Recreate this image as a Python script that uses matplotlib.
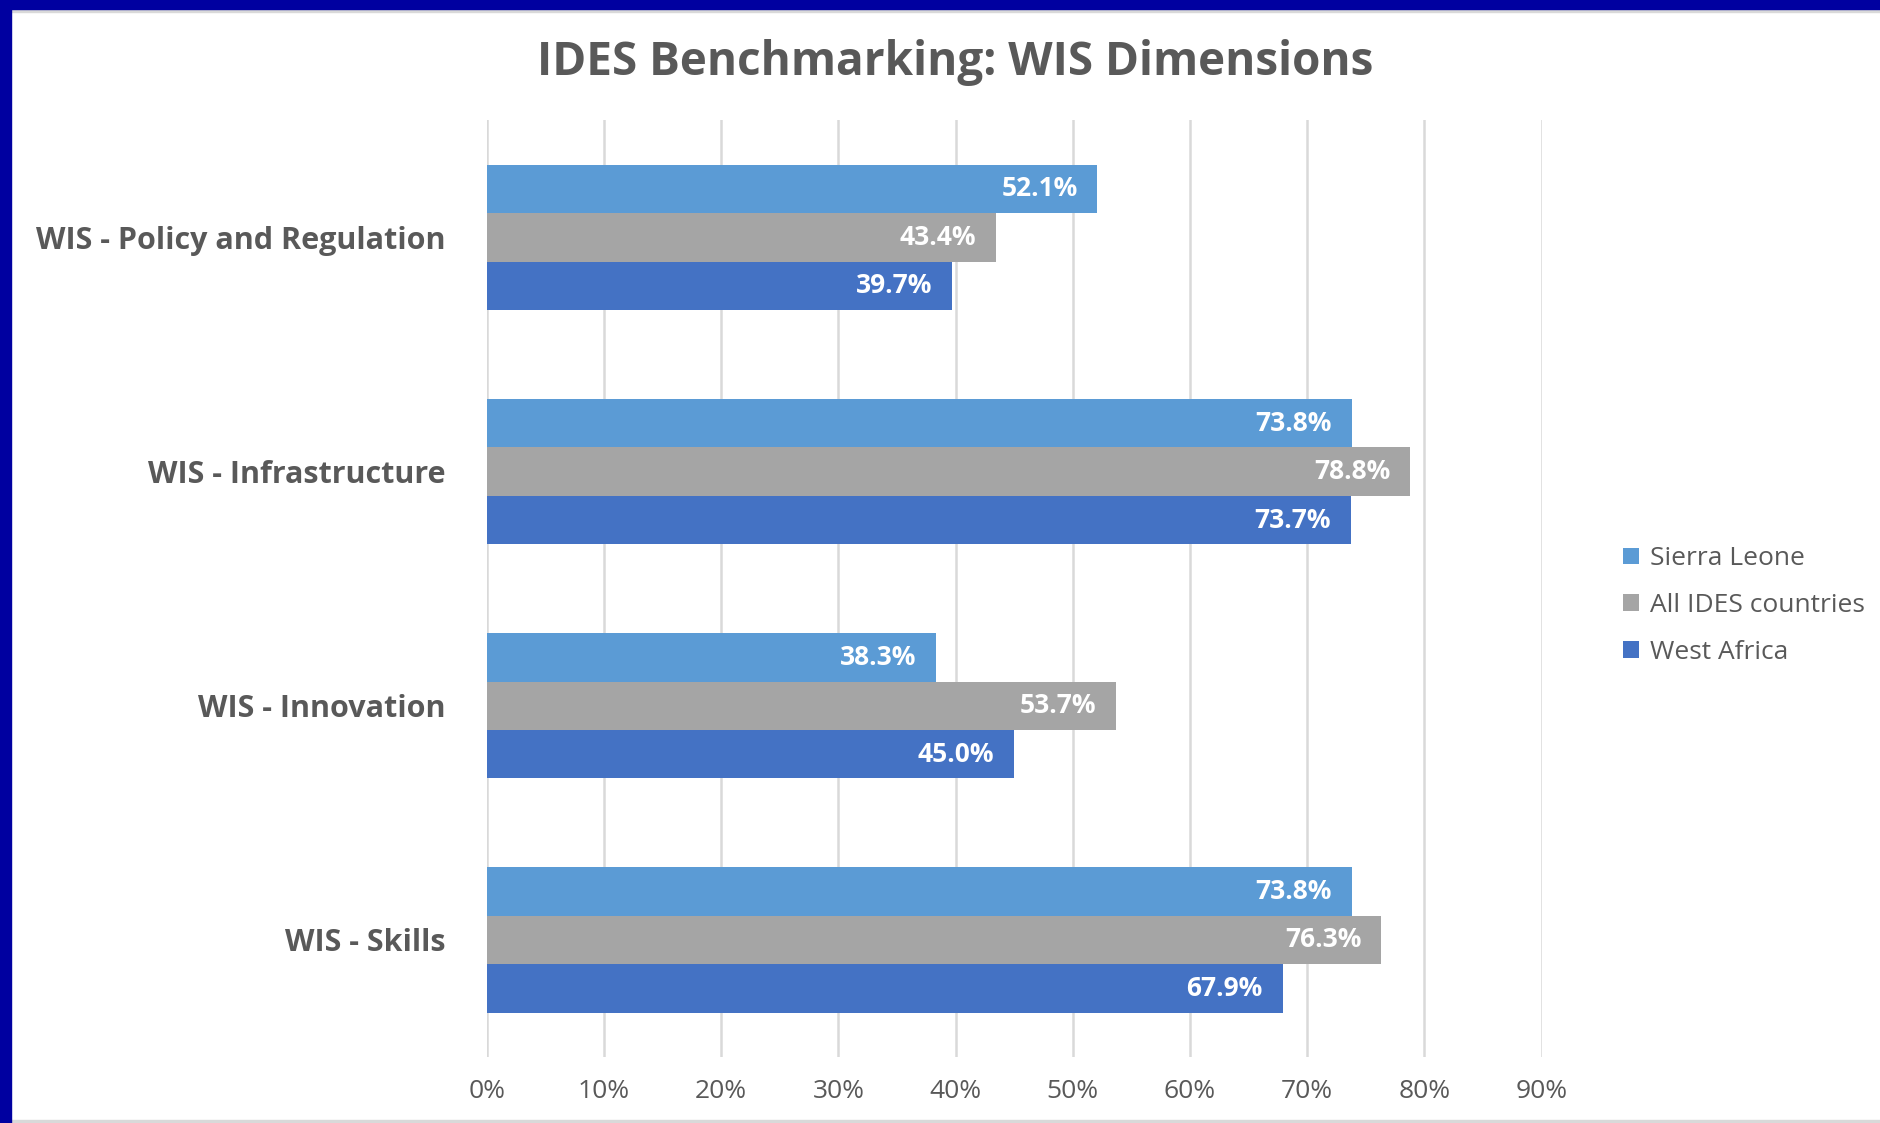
import numpy as np
import matplotlib.pyplot as plt
from matplotlib.patches import Rectangle
from matplotlib.ticker import PercentFormatter

plt.rcParams['font.family'] = ['Open Sans', 'DejaVu Sans']

# categories bottom -> top
categories = ['WIS - Skills', 'WIS - Innovation', 'WIS - Infrastructure', 'WIS - Policy and Regulation']
series = ['Sierra Leone', 'All IDES countries', 'West Africa']
sierra_leone = [73.8, 38.3, 73.8, 52.1]
all_ides = [76.3, 53.7, 78.8, 43.4]
west_africa = [67.9, 45.0, 73.7, 39.7]
colors = ['#5B9BD5', '#A5A5A5', '#4472C4']
xticks = [0, 10, 20, 30, 40, 50, 60, 70, 80, 90]

fig = plt.figure(figsize=(18.8, 11.23), dpi=100)
ax = fig.add_axes([0.259, 0.0588, 0.561, 0.834])

y = np.arange(len(categories))
h = 0.207
offsets = [h, 0, -h]
for vals, off, c, name in zip([sierra_leone, all_ides, west_africa], offsets, colors, series):
    bars = ax.barh(y + off, vals, height=h, color=c, label=name, zorder=2)
    for b, v in zip(bars, vals):
        ax.text(v - 1.7, b.get_y() + b.get_height() / 2, '%.1f%%' % v,
                ha='right', va='center', color='white', fontsize=19, fontweight='bold', zorder=3)

ax.set_xlim(0, 90)
ax.set_ylim(-0.5, 3.5)
ax.set_xticks(xticks)
ax.xaxis.set_major_formatter(PercentFormatter(decimals=0))
ax.set_yticks(y)
ax.set_yticklabels(categories, fontsize=22, fontweight='bold', color='#595959')
ax.tick_params(axis='y', length=0, pad=30)
ax.tick_params(axis='x', length=0, labelsize=19, labelcolor='#595959', pad=16)
ax.grid(axis='x', color='#D9D9D9', linewidth=1.8, zorder=0)
ax.set_axisbelow(True)
for s in ax.spines.values():
    s.set_visible(False)

fig.text(0.508, 0.944, 'IDES Benchmarking: WIS Dimensions', ha='center', va='center',
         fontsize=33, fontweight='bold', color='#595959')

leg = ax.legend(loc='center left', bbox_to_anchor=(1.055, 0.482), frameon=False,
                fontsize=19, labelcolor='#595959', handlelength=0.6, handleheight=0.6,
                handletextpad=0.4, labelspacing=0.82)

# navy frame on top and left, thin gray edge at bottom
fig.patches.append(Rectangle((0, 1 - 9 / 1123), 1, 9 / 1123, transform=fig.transFigure, color='#0000A0', zorder=10))
fig.patches.append(Rectangle((0, 0), 11 / 1880, 1, transform=fig.transFigure, color='#0000A0', zorder=10))
fig.patches.append(Rectangle((11 / 1880, 1 - 12 / 1123), 1, 3 / 1123, transform=fig.transFigure, color='#D9D9D9', zorder=9))
fig.patches.append(Rectangle((11 / 1880, 0), 1, 3 / 1123, transform=fig.transFigure, color='#D9D9D9', zorder=9))

fig.savefig('out.png', dpi=100)
